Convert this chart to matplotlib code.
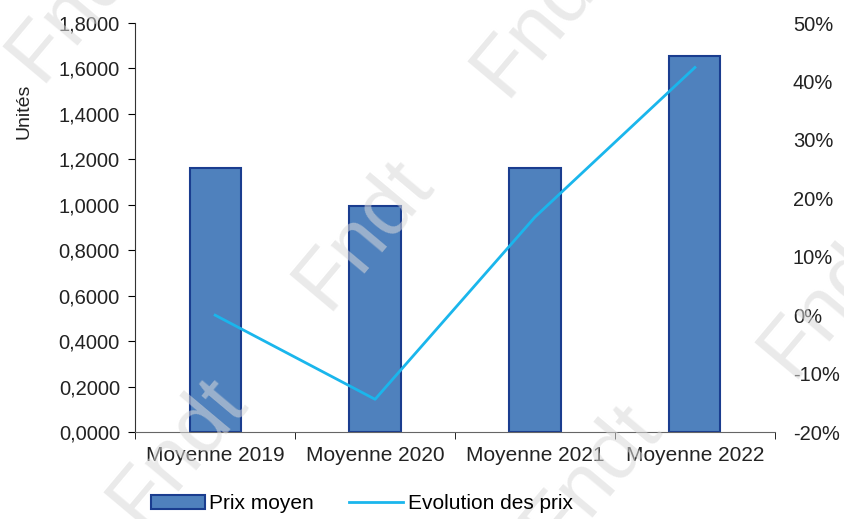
import numpy as np
import matplotlib.pyplot as plt
from matplotlib.ticker import FuncFormatter

plt.rcParams['font.family'] = ['Liberation Sans', 'DejaVu Sans']

categories = ['Moyenne 2019', 'Moyenne 2020', 'Moyenne 2021', 'Moyenne 2022']
prix_moyen = [1.162, 0.995, 1.162, 1.655]
evolution = [0.0, -14.4, 16.8, 42.4]   # en %

fig = plt.figure(figsize=(8.45, 5.19), dpi=100)
ax = fig.add_axes([0.16, 0.1676, 0.757, 0.788])
x = np.arange(len(categories))

ax.bar(x, prix_moyen, width=0.32, color='#4f81bd', edgecolor='#1a3d8f', linewidth=1.5,
       label='Prix moyen', zorder=2)
ax.set_xlim(-0.5, 3.5)
ax.set_ylim(0, 1.8)
ax.set_yticks(np.arange(0, 1.81, 0.2))
ax.yaxis.set_major_formatter(FuncFormatter(lambda v, p: f'{v:.4f}'.replace('.', ',')))
ax.set_xticks(x)
ax.set_xticklabels(categories)
ax.set_xticks(np.arange(-0.5, 3.6, 1), minor=True)
ax.tick_params(axis='x', which='major', length=0, labelsize=15, colors='#222222', pad=10)
ax.tick_params(axis='x', which='minor', length=5, direction='out')
ax.tick_params(axis='y', length=5, labelsize=14.5, labelcolor='#222222', pad=6)
for s in ['top', 'right']:
    ax.spines[s].set_visible(False)
ax.spines['left'].set_color('#333333')
ax.spines['bottom'].set_color('#666666')
ax.set_ylabel('Unités', fontsize=14, color='#222222')
ax.yaxis.set_label_coords(-0.161, 0.785)

ax2 = ax.twinx()
ax2.plot(x, evolution, color='#1ab6ec', linewidth=2, label='Evolution des prix', zorder=3)
ax2.set_ylim(-20, 50)
ax2.set_yticks(np.arange(-20, 51, 10))
ax2.yaxis.set_major_formatter(FuncFormatter(lambda v, p: f'{v:.0f}%'))
ax2.tick_params(axis='y', length=0, labelsize=14.5, labelcolor='#222222', pad=13)
for s in ['top', 'right', 'left', 'bottom']:
    ax2.spines[s].set_visible(False)

# filigrane
for (wx, wy) in [(0.09, 0.99), (0.64, 0.96), (0.43, 0.55), (0.21, 0.13), (0.70, 0.08), (0.98, 0.42)]:
    fig.text(wx, wy, 'Fndt', fontsize=60, color='#d9d9d9', alpha=0.55, rotation=50,
             ha='center', va='center', zorder=0)

h1, l1 = ax.get_legend_handles_labels()
h2, l2 = ax2.get_legend_handles_labels()
fig.legend(h1 + h2, l1 + l2, loc='lower center', bbox_to_anchor=(0.428, -0.025), ncol=2,
           frameon=False, fontsize=15, handlelength=2.6, handleheight=0.7,
           columnspacing=1.7, handletextpad=0.2)

plt.savefig('out.png', dpi=100)
